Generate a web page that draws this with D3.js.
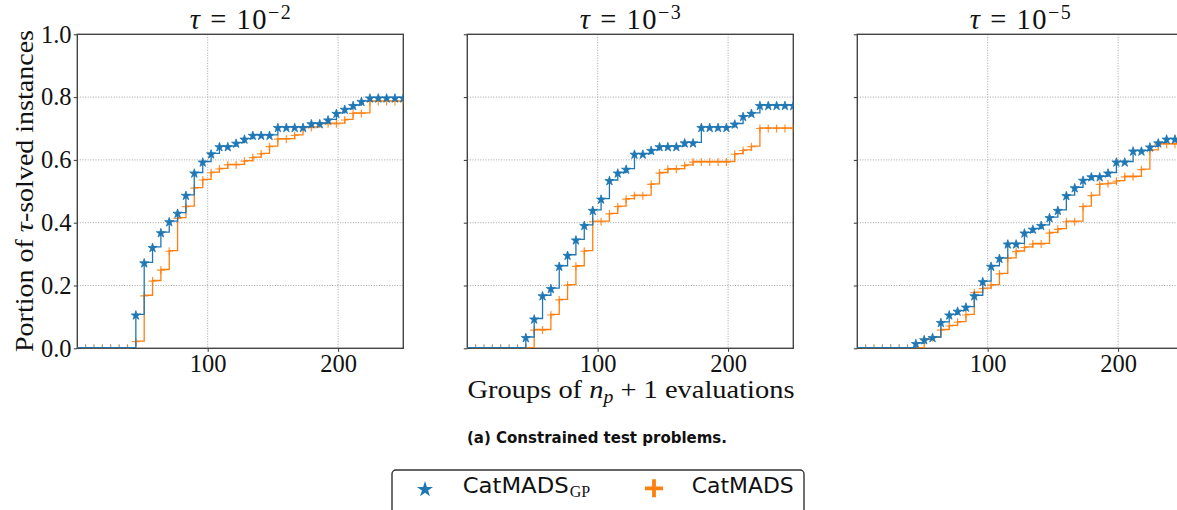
<!DOCTYPE html>
<html><head><meta charset="utf-8">
<script src="https://cdn.jsdelivr.net/npm/d3@7"></script>
<style>body{margin:0;background:#fff}svg{display:block}</style>
</head><body><svg id="c" width="1177" height="510"></svg>
<script>
// ---------------- data ----------------
const groups = [0, 6.4, 12.8, 19.2, 25.6, 32.1, 38.5, 44.9, 51.3, 57.7, 64.1, 70.5, 76.9, 83.3, 89.7, 96.2,
  102.6, 109.0, 115.4, 121.8, 128.2, 134.6, 141.0, 147.4, 153.8, 160.3, 166.7, 173.1, 179.5, 185.9,
  192.3, 198.7, 205.1, 211.5, 217.9, 224.4, 230.8, 237.2, 243.6, 250.0];

const gpTau2 = [0,0,0,0,0,0,0, 0.106,0.272,0.321,0.368,0.403,0.430,0.487,0.558,0.593,0.619,0.642,0.642,0.653,
  0.666,0.678,0.678,0.678,0.703,0.703,0.703,0.703,0.715,0.715,0.727,0.748,0.761,0.773,0.786,0.797,0.797,0.797,0.797,0.797];
const catTau2 = [0,0,0,0,0,0,0, 0.021,0.167,0.214,0.249,0.309,0.414,0.451,0.510,0.536,0.559,0.571,0.584,0.584,
  0.596,0.607,0.619,0.642,0.666,0.666,0.678,0.703,0.703,0.715,0.715,0.715,0.727,0.748,0.748,0.786,0.786,0.786,0.786,0.786];

const gpTau3 = [0,0,0,0,0,0,0, 0.034,0.093,0.167,0.190,0.261,0.296,0.345,0.391,0.439,0.475,0.534,0.558,0.570,
  0.618,0.618,0.630,0.642,0.642,0.642,0.654,0.654,0.703,0.703,0.703,0.703,0.714,0.738,0.748,0.773,0.773,0.773,0.773,0.773];
const catTau3 = [0,0,0,0,0,0,0,0, 0.058,0.058,0.106,0.154,0.201,0.261,0.309,0.403,0.403,0.428,0.451,0.475,
  0.486,0.486,0.522,0.558,0.570,0.570,0.582,0.593,0.593,0.593,0.593,0.593,0.618,0.630,0.642,0.700,0.700,0.700,0.700,0.700];

const gpTau5 = [0,0,0,0,0,0,0, 0.015,0.027,0.034,0.082,0.106,0.118,0.131,0.167,0.212,0.261,0.286,0.332,0.332,
  0.367,0.379,0.391,0.416,0.439,0.486,0.511,0.535,0.546,0.546,0.558,0.593,0.593,0.628,0.628,0.641,0.654,0.666,0.666,0.666];
const catTau5 = [0,0,0,0,0,0,0,0, 0.027,0.034,0.058,0.071,0.083,0.106,0.177,0.190,0.201,0.237,0.286,0.308,
  0.321,0.332,0.332,0.367,0.379,0.403,0.403,0.451,0.486,0.522,0.524,0.532,0.546,0.546,0.569,0.630,0.650,0.650,0.650,0.650];

const tauExponents = ["\u22122", "\u22123", "\u22125"];
const yTicks = [0, 0.2, 0.4, 0.6, 0.8, 1.0];
const xTicks = [100, 200];
const seriesNames = ["CatMADS", "CatMADS"];
const seriesSub = ["GP", ""];
const xLabel = ["Groups of ", "n", "p", " + 1 evaluations"];
const yLabel = ["Portion of ", "\u03c4", "-solved instances"];
const caption = "(a) Constrained test problems.";

const panels = [
  {gp: gpTau2, cat: catTau2, exp: tauExponents[0]},
  {gp: gpTau3, cat: catTau3, exp: tauExponents[1]},
  {gp: gpTau5, cat: catTau5, exp: tauExponents[2]}
];

// ---------------- layout ----------------
const svg = d3.select('#c');
const panelLeft = [77.3, 467.3, 857.3], pw = 326, plotTop = 34.3, plotBottom = 348.3;
const blue = '#1f77b4', orange = '#ff7f0e';
const serif = "'Liberation Serif','Times New Roman',serif";
const sans = "'DejaVu Sans','Liberation Sans',sans-serif";

const x = d3.scaleLinear().domain([0, 250]).range([0, pw]);
const y = d3.scaleLinear().domain([0, 1]).range([plotBottom, plotTop]);

svg.append('rect').attr('width', 1177).attr('height', 510).attr('fill', '#fff');

const defs = svg.append('defs');
defs.append('clipPath').attr('id', 'plotclip').append('rect')
  .attr('x', 0).attr('y', plotTop).attr('width', pw).attr('height', plotBottom - plotTop);

const starPath = d3.symbol(d3.symbolStar, 26)();
const plusPath = 'M-4,0H4M0,-4V4';

panels.forEach((p, k) => {
  const g = svg.append('g').attr('transform', `translate(${panelLeft[k]},0)`);

  // grid
  g.append('g').selectAll('line').data(yTicks.filter(t => t > 0 && t < 1)).join('line')
    .attr('x1', 0).attr('x2', pw).attr('y1', d => y(d)).attr('y2', d => y(d))
    .attr('stroke', '#999').attr('stroke-width', 0.9).attr('stroke-dasharray', '1,1.6');
  g.append('g').selectAll('line').data(xTicks).join('line')
    .attr('x1', d => x(d)).attr('x2', d => x(d)).attr('y1', plotTop).attr('y2', plotBottom)
    .attr('stroke', '#999').attr('stroke-width', 0.9).attr('stroke-dasharray', '1,1.6');

  // axes
  const ya = g.append('g').call(d3.axisLeft(y).tickValues(yTicks).tickSize(3.5).tickPadding(2.2)
    .tickFormat(k === 0 ? d3.format('.1f') : () => ''));
  const xa = g.append('g').attr('transform', `translate(0,${plotBottom})`)
    .call(d3.axisBottom(x).tickValues(xTicks).tickSize(3.5).tickPadding(3.2).tickFormat(d3.format('d')));
  [ya, xa].forEach(a => {
    a.select('.domain').remove();
    a.selectAll('line').attr('stroke', '#333');
    a.selectAll('text').attr('font-family', serif).attr('font-size', 24.5).attr('fill', '#111');
  });

  // spines (under the data, as the data line sits on the bottom spine)
  g.append('rect').attr('x', 0).attr('y', plotTop).attr('width', pw).attr('height', plotBottom - plotTop)
    .attr('fill', 'none').attr('stroke', '#444').attr('stroke-width', 1.4);

  const plot = g.append('g').attr('clip-path', 'url(#plotclip)');
  const line = d3.line().x((d, i) => x(groups[i])).y(d => y(d) - 0.6).curve(d3.curveStepAfter);

  // CatMADS (orange) series: line + markers
  plot.append('path').datum(p.cat).attr('d', line).attr('fill', 'none')
    .attr('stroke', orange).attr('stroke-width', 1.3);
  plot.append('g').selectAll('path').data(p.cat.map((v, i) => [groups[i], v]).filter((d, i) => i > 0))
    .join('path').attr('d', plusPath)
    .attr('transform', d => `translate(${x(d[0])},${y(d[1])})`)
    .attr('fill', 'none').attr('stroke', d => d[1] > 0 ? orange : '#a8804f').attr('stroke-width', 1.2).attr('opacity', 0.85);

  // CatMADS_GP (blue) series: line + markers
  plot.append('path').datum(p.gp).attr('d', line).attr('fill', 'none')
    .attr('stroke', blue).attr('stroke-width', 1.3);
  plot.append('g').selectAll('path').data(p.gp.map((v, i) => [groups[i], v]).filter((d, i) => i > 0 && d[1] > 0))
    .join('path').attr('d', starPath)
    .attr('transform', d => `translate(${x(d[0])},${y(d[1]) + 0.4})`)
    .attr('fill', blue).attr('stroke', blue).attr('stroke-width', 0.8).attr('stroke-linejoin', 'round');

  // title
  const t = g.append('text').attr('x', pw / 2).attr('y', 29.3).attr('text-anchor', 'middle')
    .attr('font-family', serif).attr('font-size', 28.5).attr('fill', '#111')
    .attr('textLength', 101).attr('lengthAdjust', 'spacing');
  t.append('tspan').attr('font-style', 'italic').text('\u03c4');
  t.append('tspan').text(' = 10');
  t.append('tspan').attr('font-size', 20).attr('dy', -10).text(p.exp);
});

// y label
const yl = svg.append('text').attr('transform', 'translate(33,191) rotate(-90)')
  .attr('text-anchor', 'middle').attr('font-family', serif).attr('font-size', 26).attr('fill', '#111')
  .attr('textLength', 322).attr('lengthAdjust', 'spacingAndGlyphs');
yl.append('tspan').text(yLabel[0]);
yl.append('tspan').attr('font-style', 'italic').text(yLabel[1]);
yl.append('tspan').text(yLabel[2]);

// x label
const xl = svg.append('text').attr('x', 631).attr('y', 398)
  .attr('text-anchor', 'middle').attr('font-family', serif).attr('font-size', 26).attr('fill', '#111')
  .attr('textLength', 327).attr('lengthAdjust', 'spacingAndGlyphs');
xl.append('tspan').text(xLabel[0]);
xl.append('tspan').attr('font-style', 'italic').text(xLabel[1]);
xl.append('tspan').attr('font-style', 'italic').attr('font-size', 18).attr('dy', 5).text(xLabel[2]);
xl.append('tspan').attr('dy', -5).text(xLabel[3]);

// caption
svg.append('text').attr('x', 467).attr('y', 443.3).attr('font-family', sans).attr('font-weight', 'bold')
  .attr('font-size', 15.5).attr('fill', '#111').attr('textLength', 260).attr('lengthAdjust', 'spacingAndGlyphs')
  .text(caption);

// legend
const lg = svg.append('g');
lg.append('rect').attr('x', 392).attr('y', 470).attr('width', 412).attr('height', 55).attr('rx', 4)
  .attr('fill', '#fff').attr('stroke', '#333').attr('stroke-width', 1.4);
lg.append('path').attr('d', d3.symbol(d3.symbolStar, 80)()).attr('transform', 'translate(425,489.5)')
  .attr('fill', blue);
lg.append('path').attr('d', 'M-9,0H9M0,-9V9').attr('transform', 'translate(654,488.3)')
  .attr('stroke', orange).attr('stroke-width', 3.8).attr('fill', 'none');
const lt1 = lg.append('text').attr('x', 462.7).attr('y', 493.3).attr('font-family', sans)
  .attr('font-size', 20.5).attr('fill', '#111');
lt1.append('tspan').attr('textLength', 106).attr('lengthAdjust', 'spacingAndGlyphs').text(seriesNames[0]);
lt1.append('tspan').attr('font-family', serif).attr('font-size', 16).attr('dy', 3.4).attr('dx', 1).text(seriesSub[0]);
lg.append('text').attr('x', 691.7).attr('y', 493.3).attr('font-family', sans)
  .attr('font-size', 20.5).attr('fill', '#111').attr('textLength', 102).attr('lengthAdjust', 'spacingAndGlyphs')
  .text(seriesNames[1]);
</script>
</body></html>
